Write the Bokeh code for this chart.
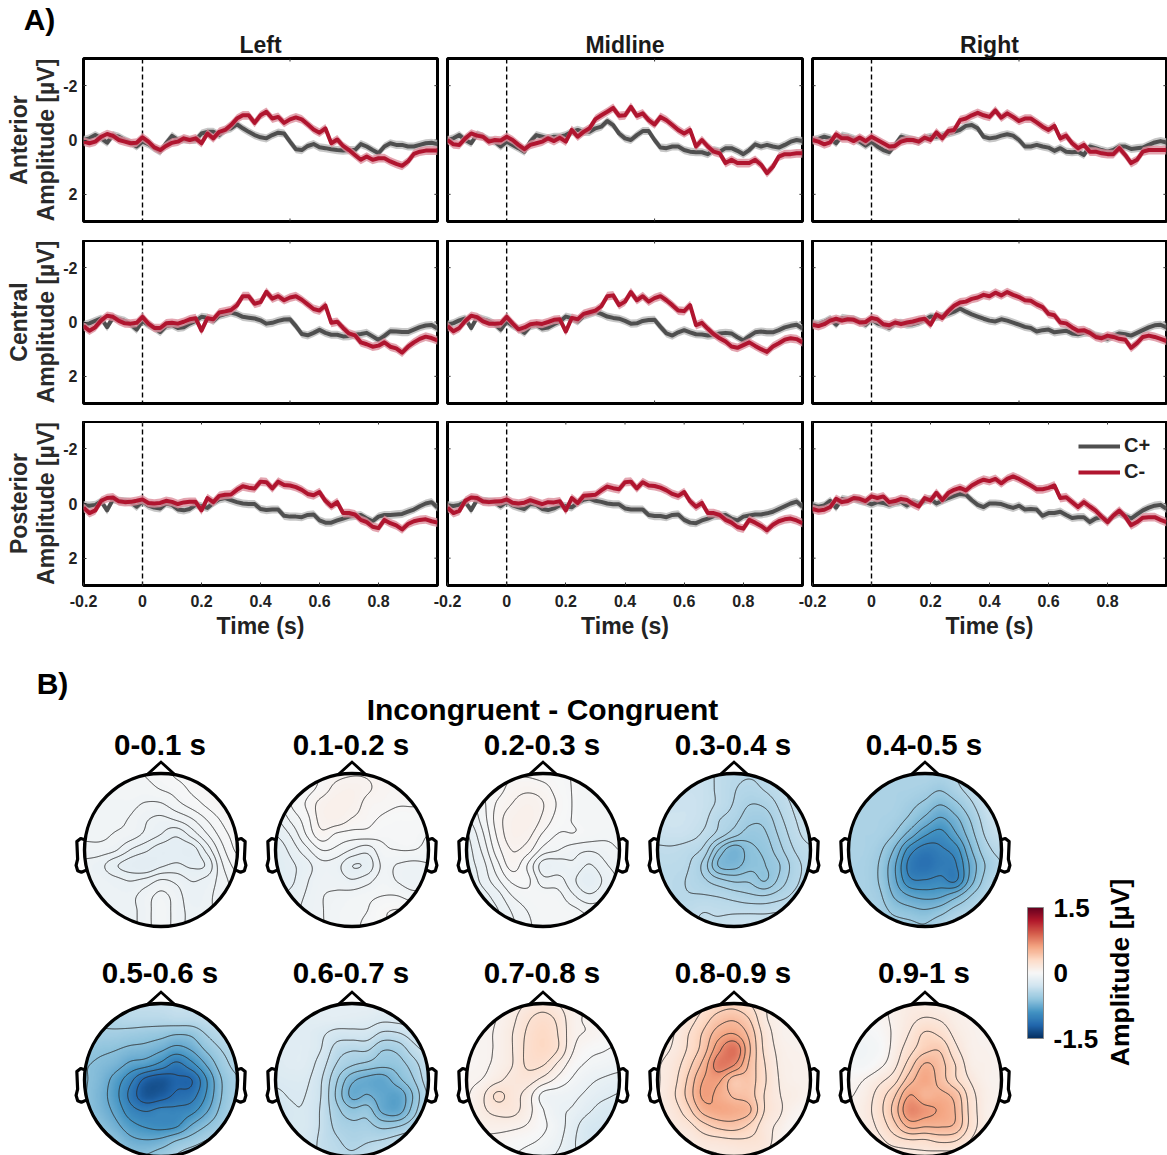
import numpy as np
from bokeh.core.properties import value
from bokeh.embed import file_html
from bokeh.layouts import column, row
from bokeh.models import (ColorBar, FixedTicker, Legend, LegendItem, LinearAxis,
                          LinearColorMapper, Range1d, Span)
from bokeh.palettes import RdBu
from bokeh.plotting import figure
from bokeh.resources import INLINE

FONT = "Liberation Sans"

# ---------------------------------------------------------------- data, panel A (uV)
gray_ant_left = [0, -.06, -.18, -.06, .10, -.18, -.12, 0, .10, .24, .06, .15, .30, .43, .12, -.15, 0, -.02, 0, 0, -.24, -.30, -.30, -.18, -.37, -.43, -.58, -.43, -.30, -.18, -.10, -.06, -.18, -.27, -.24, .06, .34, .37, .22, .15, .27, .30, .34, .37, .39, .37, .37, .15, .24, .37, .49, .24, .12, .18, .18, .24, .24, .18, .12, .10, .15]
red_ant_left = [.06, .12, .06, -.12, -.22, -.15, 0, .06, .12, .10, -.10, .06, .27, .37, .22, .10, .06, -.06, 0, -.06, .12, -.24, -.06, -.30, -.37, -.55, -.79, -.91, -.91, -.63, -.91, -1.04, -.79, -.85, -.63, -.76, -.83, -.76, -.58, -.39, -.27, -.43, .12, -.02, .22, .37, .55, .73, .61, .73, .67, .67, .79, .88, .95, .79, .51, .43, .39, .39, .39]
gray_ant_mid = [0, -.06, -.18, 0, .12, -.21, -.12, 0, .06, .24, .06, .18, .30, .43, .06, -.18, -.12, -.06, -.12, -.12, -.18, -.30, -.37, -.30, -.30, -.43, -.49, -.70, -.55, -.24, -.06, 0, -.18, -.33, -.33, 0, .28, .30, .24, .24, .37, .43, .45, .45, .52, .37, .43, .30, .30, .40, .52, .37, .16, .24, .18, .24, .28, .18, .06, 0, .04]
red_ant_mid = [0, .16, .18, -.06, -.24, -.16, -.12, .06, 0, .02, -.12, 0, .18, .34, .18, .12, .06, -.06, .04, -.08, .06, -.37, -.12, -.30, -.43, -.77, -.91, -1.04, -1.18, -.89, -.91, -1.22, -.89, -.98, -.73, -.57, -.85, -.73, -.55, -.37, -.24, -.37, .24, 0, .24, .43, .49, .85, .73, .85, .85, .85, .73, .91, 1.22, .98, .61, .52, .52, .49, .49]
gray_ant_right = [0, -.04, -.12, -.06, .12, -.16, -.12, -.04, .06, .21, .06, .24, .37, .45, .18, -.12, -.06, 0, .06, -.06, -.12, -.12, -.16, -.24, -.30, -.37, -.52, -.55, -.43, -.12, -.06, -.09, -.16, -.21, -.16, 0, .24, .24, .18, .24, .28, .40, .30, .43, .45, .43, .55, .24, .30, .37, .43, .37, .24, .24, .33, .30, .28, .18, .09, .04, .09]
red_ant_right = [0, .06, .16, .09, -.21, -.06, -.06, .04, -.09, .04, -.12, 0, .12, .24, .22, .06, 0, 0, .06, -.09, 0, -.28, -.06, -.33, -.37, -.73, -.79, -.91, -1.0, -.91, -.85, -1.09, -.82, -.98, -.85, -.70, -.79, -.79, -.65, -.49, -.37, -.52, -.06, -.16, .12, .30, .18, .43, .43, .49, .52, .52, .30, .55, .85, .73, .43, .37, .37, .37, .37]

gray_cen_left = [.11, .05, -.04, -.13, .19, -.16, -.10, -.04, .09, .28, -.04, .11, .22, .37, .15, .11, .22, .19, .06, -.04, -.19, -.16, -.04, -.23, -.29, -.35, -.29, -.19, -.16, -.13, -.06, .06, .03, -.04, -.09, -.10, .15, .44, .49, .40, .29, .40, .47, .47, .53, .52, .47, .44, .40, .53, .66, .51, .34, .35, .37, .37, .28, .19, .13, .11, .24]
red_cen_left = [.15, .32, .19, -.06, -.23, -.19, -.04, .05, .06, .03, -.19, .06, .22, .22, .05, .03, .06, -.01, -.10, -.14, .32, -.14, -.10, -.35, -.39, -.44, -.61, -.95, -.95, -.67, -.73, -1.11, -.86, -.95, -.80, -.90, -.95, -.82, -.65, -.48, -.42, -.61, .03, -.01, .22, .42, .49, .75, .82, .91, .87, .75, .91, .97, 1.13, .91, .75, .62, .54, .59, .68]
gray_cen_mid = [.10, .04, -.06, -.13, .22, -.17, -.10, -.03, .08, .28, -.02, .13, .25, .40, .15, .10, .24, .20, .08, -.02, -.20, -.14, -.02, -.22, -.30, -.37, -.30, -.20, -.15, -.12, -.04, .06, .05, -.04, -.07, -.08, .18, .42, .50, .38, .30, .38, .45, .46, .50, .48, .42, .40, .42, .56, .68, .52, .38, .35, .38, .38, .30, .20, .14, .10, .24]
red_cen_mid = [.15, .34, .22, -.04, -.23, -.18, -.02, .06, .06, .05, -.19, .05, .27, .20, .08, .05, .07, 0, -.08, -.10, .35, -.15, -.10, -.30, -.36, -.42, -.58, -.95, -.98, -.62, -.75, -1.10, -.80, -.95, -.75, -.88, -.95, -.80, -.62, -.42, -.40, -.62, .12, .03, .25, .45, .60, .72, .90, .95, .85, .75, .88, 1.0, 1.10, .90, .78, .65, .60, .63, .75]
gray_cen_right = [.05, .08, 0, -.12, .10, -.15, -.12, -.10, -.02, .10, -.10, .05, .12, .22, .05, .03, .10, .08, .02, -.08, -.20, -.18, -.22, -.30, -.38, -.50, -.38, -.28, -.20, -.12, -.05, -.02, -.10, -.05, .02, .10, .18, .22, .35, .30, .28, .38, .35, .32, .42, .45, .40, .38, .50, .55, .62, .50, .42, .45, .50, .40, .30, .20, .12, .10, .20]
red_cen_right = [.10, .15, .08, -.05, -.12, -.05, -.10, -.08, .02, 0, -.15, -.10, .08, .12, .02, .08, .02, -.02, -.08, -.12, .10, -.28, -.15, -.40, -.60, -.72, -.75, -.85, -.90, -1.0, -.95, -1.08, -.98, -1.10, -1.0, -.92, -.80, -.78, -.65, -.55, -.30, -.25, .02, .05, .20, .32, .30, .40, .55, .60, .50, .55, .62, .65, .95, .78, .55, .50, .55, .62, .70]

gray_pos_left = [.06, .08, .05, -.08, .25, -.15, -.10, -.08, -.05, .12, -.08, .08, .15, .18, 0, .05, .22, .25, .20, .05, .10, .16, -.02, -.15, -.20, -.12, -.05, 0, .02, .02, .20, .24, .22, .22, .45, .48, .48, .50, .42, .40, .62, .70, .70, .62, .55, .48, .45, .42, .55, .65, .48, .42, .42, .40, .38, .30, .22, .10, 0, -.05, .15]
red_pos_left = [.15, .35, .25, -.10, -.20, -.22, -.08, -.05, -.06, -.10, -.15, -.02, 0, -.02, -.10, -.06, .02, -.04, -.06, -.06, .25, -.20, -.05, -.28, -.32, -.33, -.50, -.63, -.58, -.55, -.80, -.78, -.55, -.80, -.68, -.66, -.60, -.50, -.35, -.30, -.42, -.10, .10, -.05, .35, .35, .40, .60, .68, .85, .90, .60, .72, .80, .95, .75, .65, .60, .58, .65, .70]
gray_pos_mid = [.07, .09, .05, -.06, .24, -.14, -.10, -.07, -.05, .10, -.07, .07, .14, .20, .02, .05, .20, .24, .18, .06, .10, .14, -.02, -.14, -.18, -.10, -.06, 0, .03, .03, .18, .22, .22, .22, .42, .46, .46, .50, .42, .40, .60, .70, .72, .62, .55, .46, .44, .42, .55, .62, .48, .44, .40, .40, .36, .30, .20, .10, 0, -.07, .12]
red_pos_mid = [.15, .35, .27, -.10, -.22, -.20, -.07, -.05, -.07, -.08, -.15, -.03, 0, -.03, -.12, -.05, .02, -.05, -.04, -.08, .25, -.20, -.02, -.28, -.30, -.32, -.48, -.62, -.56, -.52, -.78, -.80, -.55, -.78, -.66, -.64, -.58, -.48, -.35, -.28, -.42, -.08, .12, -.02, .35, .35, .42, .60, .70, .86, .92, .60, .70, .82, .98, .78, .65, .58, .55, .62, .72]
gray_pos_right = [.07, .12, .07, -.10, .15, -.17, -.12, -.18, -.10, -.05, .03, -.05, -.02, .05, -.02, -.06, .07, -.06, .02, -.10, -.17, 0, -.10, -.20, -.28, -.35, -.32, -.12, .05, .13, 0, 0, .02, .10, .16, .08, .22, .20, .22, .45, .35, .35, .30, .42, .53, .50, .50, .68, .55, .50, .65, .45, .35, .45, .55, .40, .25, .15, .08, .05, .20]
red_pos_right = [.20, .26, .23, .13, -.17, -.05, -.09, -.20, -.17, -.09, -.26, -.20, -.26, -.05, -.09, -.17, -.13, .01, .11, -.20, -.11, -.39, -.13, -.38, -.50, -.57, -.48, -.66, -.78, -.87, -.82, -.90, -.74, -.90, -.99, -.90, -.78, -.66, -.52, -.52, -.57, -.66, -.20, -.23, -.05, .13, -.05, .11, .26, .48, .68, .44, .26, .48, .80, .68, .52, .50, .50, .60, .68]

sem_gray = 0.15
sem_red = 0.16
row_names = ["Anterior", "Central", "Posterior"]
col_names = ["Left", "Midline", "Right"]
gray_series = [[gray_ant_left, gray_ant_mid, gray_ant_right], [gray_cen_left, gray_cen_mid, gray_cen_right], [gray_pos_left, gray_pos_mid, gray_pos_right]]
red_series = [[red_ant_left, red_ant_mid, red_ant_right], [red_cen_left, red_cen_mid, red_cen_right], [red_pos_left, red_pos_mid, red_pos_right]]
time_ticks = [-0.2, 0, 0.2, 0.4, 0.6, 0.8]
time_labels = {-0.2: "-0.2", 0: "0", 0.2: "0.2", 0.4: "0.4", 0.6: "0.6", 0.8: "0.8"}
amp_ticks = [-2, 0, 2]
amp_labels = {-2: "-2", 0: "0", 2: "2"}

# ---------------------------------------------------------------- data, panel B (0.01 uV, top row first)
topo_titles = ["0-0.1 s", "0.1-0.2 s", "0.2-0.3 s", "0.3-0.4 s", "0.4-0.5 s", "0.5-0.6 s", "0.6-0.7 s", "0.7-0.8 s", "0.8-0.9 s", "0.9-1 s"]
topo_0 = [[-4,-4,-4,-4,-3,-2,0,1,2,3,3],[-4,-4,-4,-4,-4,-3,-2,0,1,3,3],[-5,-5,-5,-5,-6,-6,-4,-2,0,2,3],[-5,-5,-5,-6,-8,-9,-8,-6,-3,0,3],[-5,-5,-6,-7,-9,-11,-13,-10,-6,-2,1],[-7,-7,-8,-11,-13,-15,-15,-15,-10,-4,0],[-9,-10,-13,-15,-16,-14,-13,-14,-13,-6,-2],[-9,-9,-10,-11,-10,-8,-9,-11,-10,-7,-4],[-9,-9,-9,-9,-7,-5,-7,-10,-9,-7,-5],[-9,-9,-9,-9,-7,-4,-7,-9,-9,-7,-6],[-9,-9,-9,-9,-7,-4,-7,-9,-9,-8,-7]]
topo_1 = [[-5,-3,-1,1,3,4,4,3,2,2,2],[-6,-4,-1,2,6,7,5,3,2,2,2],[-8,-3,1,6,8,7,3,2,1,1,1],[-11,-6,-1,6,7,4,2,0,-1,-1,-2],[-14,-10,-3,3,0,-1,-1,-2,-2,-2,-3],[-17,-13,-8,-3,-4,-7,-9,-4,-3,-3,-4],[-18,-15,-12,-8,-9,-14,-13,-6,-7,-8,-7],[-17,-15,-11,-8,-8,-10,-8,-5,-7,-9,-7],[-15,-13,-10,-7,-6,-5,-4,-3,-3,-5,-5],[-13,-12,-9,-7,-5,-4,-3,0,1,0,-2],[-12,-11,-8,-7,-5,-4,-2,0,1,0,-2]]
topo_2 = [[-3,-2,0,1,1,0,-1,-2,-3,-3,-3],[-5,-2,0,3,4,3,0,-2,-3,-3,-3],[-7,-3,2,5,7,5,1,-2,-3,-3,-3],[-9,-4,3,7,8,4,0,-2,-3,-3,-3],[-12,-6,2,7,6,1,-2,-2,-3,-4,-4],[-13,-8,0,5,3,-3,-5,-7,-8,-7,-5],[-13,-10,-3,3,-2,-10,-10,-9,-12,-9,-7],[-14,-11,-6,-1,-1,-7,-7,-11,-15,-11,-8],[-14,-13,-10,-5,-3,-3,-4,-8,-11,-9,-7],[-14,-13,-12,-8,-5,-3,-3,-4,-6,-6,-6],[-14,-13,-12,-9,-6,-3,-3,-3,-4,-5,-5]]
topo_3 = [[-35,-35,-34,-34,-38,-41,-42,-41,-37,-33,-30],[-34,-34,-33,-34,-38,-42,-44,-42,-38,-33,-30],[-33,-33,-32,-34,-38,-43,-48,-47,-41,-35,-30],[-32,-31,-32,-35,-42,-46,-52,-52,-44,-37,-32],[-34,-33,-34,-38,-45,-52,-57,-55,-47,-39,-34],[-38,-38,-40,-44,-60,-70,-62,-58,-50,-42,-38],[-40,-40,-42,-50,-66,-68,-62,-60,-54,-45,-40],[-40,-41,-43,-47,-52,-55,-55,-60,-52,-44,-40],[-41,-41,-42,-42,-43,-45,-47,-48,-45,-41,-39],[-41,-41,-39,-37,-38,-38,-38,-38,-37,-37,-37],[-40,-40,-38,-36,-35,-32,-32,-33,-34,-35,-35]]
topo_4 = [[-48,-48,-48,-48,-47,-46,-47,-44,-38,-30,-28],[-48,-48,-48,-48,-48,-50,-54,-47,-39,-30,-28],[-48,-48,-48,-48,-52,-58,-66,-58,-46,-34,-28],[-48,-48,-48,-50,-58,-70,-80,-70,-54,-38,-30],[-48,-48,-49,-56,-72,-88,-94,-80,-60,-42,-35],[-48,-48,-53,-68,-95,-107,-103,-95,-68,-48,-40],[-48,-49,-56,-76,-105,-112,-106,-102,-75,-54,-44],[-48,-49,-56,-75,-98,-100,-97,-102,-72,-50,-40],[-48,-49,-53,-68,-78,-82,-80,-70,-55,-44,-38],[-48,-48,-50,-58,-62,-65,-60,-50,-44,-38,-35],[-48,-48,-48,-50,-52,-54,-46,-40,-38,-35,-34]]
topo_5 = [[-40,-40,-40,-38,-37,-36,-35,-35,-35,-35,-35],[-45,-45,-44,-42,-42,-42,-40,-40,-37,-35,-35],[-52,-52,-52,-54,-56,-58,-62,-60,-48,-40,-36],[-58,-60,-62,-66,-68,-74,-82,-75,-60,-48,-42],[-62,-65,-70,-80,-85,-95,-108,-95,-75,-55,-45],[-62,-68,-82,-100,-122,-128,-120,-118,-90,-62,-50],[-62,-70,-85,-108,-128,-125,-115,-110,-88,-62,-50],[-60,-68,-80,-98,-105,-100,-100,-95,-78,-58,-48],[-55,-62,-72,-85,-92,-95,-92,-75,-62,-52,-45],[-52,-55,-62,-72,-75,-72,-62,-55,-48,-45,-42],[-50,-52,-58,-62,-62,-55,-48,-42,-40,-40,-40]]
topo_6 = [[-20,-18,-16,-15,-14,-14,-14,-15,-15,-15,-16],[-20,-18,-17,-16,-16,-17,-18,-21,-20,-18,-17],[-20,-18,-18,-22,-28,-28,-28,-36,-35,-28,-20],[-18,-18,-18,-24,-38,-42,-42,-52,-50,-38,-30],[-20,-18,-19,-29,-44,-52,-56,-60,-58,-48,-35],[-22,-21,-22,-33,-52,-70,-76,-78,-66,-54,-38],[-26,-23,-24,-34,-55,-75,-72,-78,-80,-62,-42],[-32,-25,-25,-35,-50,-60,-58,-75,-78,-58,-40],[-34,-25,-25,-35,-46,-50,-50,-56,-54,-46,-35],[-34,-26,-27,-36,-42,-46,-44,-42,-38,-34,-30],[-34,-26,-28,-36,-40,-42,-38,-34,-30,-28,-26]]
topo_7 = [[5,5,5,10,15,18,14,8,5,3,2],[3,4,6,12,21,26,20,8,5,3,2],[3,4,7,14,24,30,22,8,5,2,0],[3,4,7,14,25,30,22,6,0,-2,-4],[3,4,8,14,24,23,12,1,-4,-6,-8],[4,6,12,17,18,11,3,-4,-9,-12,-14],[5,12,24,18,10,-5,-7,-9,-13,-17,-20],[5,12,17,17,9,-2,-9,-12,-18,-24,-25],[5,8,9,8,5,-1,-7,-16,-25,-27,-26],[3,4,3,1,-1,-4,-9,-18,-26,-27,-26],[2,2,1,-2,-5,-8,-12,-18,-22,-24,-24]]
topo_8 = [[8,8,12,22,30,32,25,14,7,5,5],[8,10,18,30,42,46,36,15,8,6,6],[8,12,24,38,55,60,45,20,8,6,6],[10,14,26,42,68,82,50,22,10,7,7],[12,18,32,52,78,72,46,25,11,8,8],[12,20,38,60,62,42,42,26,12,8,8],[12,22,40,62,56,46,42,24,13,10,6],[12,18,32,52,58,56,50,24,14,6,2],[10,14,20,32,40,42,34,18,10,1,-2],[10,10,12,18,20,22,22,18,6,-2,-3],[8,8,8,10,12,14,16,14,3,-3,-3]]
topo_9 = [[5,5,5,8,12,12,10,8,6,5,5],[2,2,3,8,14,18,16,10,7,5,5],[-3,-3,0,8,18,30,26,14,8,6,6],[-5,-5,-2,10,24,36,38,20,9,7,6],[-3,-3,3,14,34,52,44,28,11,8,6],[2,6,14,24,46,58,46,30,16,8,6],[5,10,22,38,62,52,54,46,22,10,6],[7,12,24,44,72,66,60,50,24,10,6],[8,11,20,36,54,52,52,48,24,10,6],[8,10,14,22,26,26,30,28,16,7,5],[8,8,9,10,12,14,12,12,8,5,5]]
topo_fields = [topo_0, topo_1, topo_2, topo_3, topo_4, topo_5, topo_6, topo_7, topo_8, topo_9]
cbar_ticks = [-1.5, 0, 1.5]
cbar_labels = {-1.5: "-1.5", 0: "0", 1.5: "1.5"}
ear_x = [0.98, 1.05, 1.10, 1.09, 1.11, 1.09, 1.04, 0.97]
ear_y = [0.13, 0.15, 0.11, -0.12, -0.20, -0.27, -0.29, -0.26]
nose_x = [-0.18, 0, 0.18]
nose_y = [0.985, 1.15, 0.985]

# ---------------------------------------------------------------- helpers
GRAY, GRAY_BAND = "#4f4f4f", "#b9b9b9"
RED, RED_BAND = "#b0152f", "#dc8f9c"
TXT = "#222222"
TICK = "#333333"
TICK_X = 0.0105   # 3 px inward, in seconds
TICK_Y = 0.11     # 3 px inward, in uV


def erp_panel(r, c):
    border_left = 83 if c == 0 else 30
    border_right = 1 if c == 2 else 2
    border_top = 58 if r == 0 else 0
    border_bottom = 55 if r == 2 else (19 if r == 0 else 18)
    p = figure(frame_width=354 if c != 1 else 355, frame_height=164 if r == 2 else 163,
               min_border_left=border_left, min_border_right=border_right,
               min_border_top=border_top, min_border_bottom=border_bottom,
               x_range=Range1d(-0.2, 1.0), y_range=Range1d(3, -3),
               x_axis_type=None, y_axis_type=None, output_backend="svg", toolbar_location=None,
               background_fill_color=None, border_fill_color=None,
               outline_line_color="black", outline_line_width=3,
               margin=(0, 0, 0, -22 if c else 0))
    p.grid.visible = False
    if r == 0:
        p.title.text = col_names[c]
        p.title.align = "center"
        p.title.text_font = FONT
        p.title.text_font_size = "23px"
        p.title.text_font_style = "bold"
        p.title.text_color = "#1a1a1a"
        p.title.standoff = 1
    xt = time_ticks if r == 2 else [0.5]
    if r == 2:
        ax = LinearAxis(ticker=FixedTicker(ticks=xt), axis_line_color=None, major_tick_in=3, major_tick_out=0,
                        minor_tick_line_color=None, major_tick_line_color=TICK, major_tick_line_width=1)
        ax.major_label_text_font_size = "16px"
        ax.major_label_text_font = FONT
        ax.major_label_text_font_style = "bold"
        ax.major_label_text_color = TXT
        ax.major_label_overrides = time_labels
        ax.major_label_standoff = 9
        ax.axis_label = "Time (s)"
        ax.axis_label_text_font = FONT
        ax.axis_label_text_font_size = "23px"
        ax.axis_label_text_font_style = "bold"
        ax.axis_label_text_color = TXT
        ax.axis_label_standoff = 3
        p.add_layout(ax, "below")
    else:
        p.segment(x0=xt, x1=xt, y0=[3] * len(xt), y1=[3 - TICK_Y] * len(xt), line_color=TICK, line_width=1)
    p.segment(x0=xt, x1=xt, y0=[-3] * len(xt), y1=[-3 + TICK_Y] * len(xt), line_color=TICK, line_width=1)
    if c == 0:
        ax = LinearAxis(ticker=FixedTicker(ticks=amp_ticks), axis_line_color=None, major_tick_in=3, major_tick_out=0,
                        minor_tick_line_color=None, major_tick_line_color=TICK, major_tick_line_width=1)
        ax.major_label_text_font_size = "16px"
        ax.major_label_text_font = FONT
        ax.major_label_text_font_style = "bold"
        ax.major_label_text_color = TXT
        ax.major_label_overrides = amp_labels
        ax.major_label_standoff = 6
        ax.axis_label = row_names[r] + "\nAmplitude [µV]"
        ax.axis_label_text_font = FONT
        ax.axis_label_text_font_size = "23px"
        ax.axis_label_text_font_style = "bold"
        ax.axis_label_text_color = "#2a2a2a"
        ax.axis_label_text_line_height = 1.05
        ax.axis_label_standoff = 1
        p.add_layout(ax, "left")
    else:
        p.segment(x0=[-0.2] * 3, x1=[-0.2 + TICK_X] * 3, y0=amp_ticks, y1=amp_ticks, line_color=TICK, line_width=1)
    p.segment(x0=[1.0] * 3, x1=[1.0 - TICK_X] * 3, y0=amp_ticks, y1=amp_ticks, line_color=TICK, line_width=1)
    p.add_layout(Span(location=0, dimension="height", line_color="black", line_width=1.4,
                      line_dash="5 3", level="underlay"))
    g = np.array(gray_series[r][c])
    t_g = np.linspace(-0.2, 1.0, len(g))
    red = np.array(red_series[r][c])
    t_r = np.linspace(-0.2, 1.0, len(red))
    p.varea(t_g, g - sem_gray, g + sem_gray, fill_color=GRAY_BAND, fill_alpha=0.8)
    gl = p.line(t_g, g, line_color=GRAY, line_width=4, line_join="round")
    p.varea(t_r, red - sem_red, red + sem_red, fill_color=RED_BAND, fill_alpha=0.8)
    rl = p.line(t_r, red, line_color=RED, line_width=4, line_join="round")
    if r == 2 and c == 2:
        leg = Legend(items=[LegendItem(label="C+", renderers=[gl]), LegendItem(label="C-", renderers=[rl])],
                     location=(266, 102), border_line_color=None, background_fill_alpha=0,
                     label_text_font=FONT, label_text_font_size="20px", label_text_font_style="bold",
                     label_text_color=TXT, glyph_width=42, glyph_height=20, padding=0, margin=0, spacing=3,
                     label_standoff=4)
        p.add_layout(leg)
    return p


def catmull_weights(n_in, n_out):
    t = np.linspace(0, n_in - 1, n_out)
    i = np.clip(np.floor(t).astype(int), 0, n_in - 2)
    u = t - i
    w = np.zeros((n_out, n_in))
    coef = [-.5 * u**3 + u**2 - .5 * u, 1.5 * u**3 - 2.5 * u**2 + 1, -1.5 * u**3 + 2 * u**2 + .5 * u, .5 * u**3 - .5 * u**2]
    for k, cf in zip((-1, 0, 1, 2), coef):
        idx = np.clip(i + k, 0, n_in - 1)
        np.add.at(w, (np.arange(n_out), idx), cf)
    return w


common = dict(text_font=value(FONT), text_font_style="bold", text_align="center", text_baseline="middle", text_color="black")

# ---------------------------------------------------------------- panel A heading, overlapped by the first row
HEAD_H = 40
pa = figure(width=100, height=HEAD_H, x_range=Range1d(0, 100), y_range=Range1d(-HEAD_H, 0),
            x_axis_type=None, y_axis_type=None, output_backend="svg", toolbar_location=None,
            min_border=0, outline_line_color=None, background_fill_color=None, border_fill_color=None)
pa.grid.visible = False
pa.text(x=[39], y=[-19], text=["A)"], text_font_size="30px", **common)

# ---------------------------------------------------------------- panel A
rows = []
for r in range(3):
    rows.append(row([erp_panel(r, c) for c in range(3)], spacing=0,
                    margin=(-HEAD_H if r == 0 else 0, 0, 0, 0)))

# ---------------------------------------------------------------- panel B
anchors = list(RdBu[11])
rgb = np.array([[int(h[i:i + 2], 16) for i in (1, 3, 5)] for h in anchors], float)
pos = np.linspace(0, 1, 11)
palette = []
for s in np.linspace(0, 1, 256):
    palette.append("#%02x%02x%02x" % tuple(int(round(np.interp(s, pos, rgb[:, k]))) for k in range(3)))
mapper = LinearColorMapper(palette=palette, low=-1.5, high=1.5, nan_color="rgba(0,0,0,0)")

pb = figure(width=1167, height=515, x_range=Range1d(0, 1167), y_range=Range1d(-1155, -640),
            x_axis_type=None, y_axis_type=None, output_backend="svg", toolbar_location=None,
            min_border=0, outline_line_color=None, background_fill_color=None, border_fill_color=None)
pb.grid.visible = False

R = 76.5
N = 221
W = catmull_weights(11, N)
axis = np.linspace(-1, 1, N)
XX, YY = np.meshgrid(axis, axis)
inside = XX**2 + YY**2 <= 1.0
title_x, title_y = [], []
for k, field in enumerate(topo_fields):
    cx = 160.5 + 191 * (k % 5)
    cy = -(848.5 + 230 * (k // 5))
    g = np.array(field, float)[::-1] / 100.0
    z = W @ g @ W.T
    zin = z[inside]
    zimg = np.where(inside, z, np.nan)
    pb.image(image=[zimg], x=cx - R, y=cy - R, dw=2 * R, dh=2 * R, color_mapper=mapper)
    levels = np.linspace(zin.min(), zin.max(), 8)[1:-1]
    pb.contour(cx + axis * R, cy + axis * R, np.ma.masked_where(~inside, z), levels,
               line_color="#2b2b2b", line_width=1.0, line_alpha=0.9)
    pb.circle(x=[cx], y=[cy], radius=R, fill_color=None, line_color="black", line_width=3.4)
    pb.line(cx + np.array(nose_x) * R, cy + np.array(nose_y) * R, line_color="black", line_width=2.8, line_join="miter")
    for sgn in (-1, 1):
        pb.line(cx + sgn * np.array(ear_x) * R, cy + np.array(ear_y) * R, line_color="black", line_width=3.2, line_join="round")
    title_x.append(cx - 1)
    title_y.append(cy + (105.5 if k < 5 else 107.5))

pb.text(x=title_x, y=title_y, text=topo_titles, text_font_size="29.5px", **common)
pb.text(x=[542], y=[-708], text=["Incongruent - Congruent"], text_font_size="30px", **common)
pb.text(x=[52], y=[-682], text=["B)"], text_font_size="30px", **common)
pb.text(x=[1119], y=[-971], text=["Amplitude [µV]"], text_font_size="26.5px", angle=np.pi / 2, **common)

cb = ColorBar(color_mapper=mapper, ticker=FixedTicker(ticks=cbar_ticks), major_label_overrides=cbar_labels,
              location=(1027, 118), width=16, height=131, padding=0, margin=0, bar_line_color="#888888",
              major_tick_line_color=None, minor_tick_line_color=None, label_standoff=10, title=None,
              major_label_text_font=FONT, major_label_text_font_size="26px", major_label_text_font_style="bold",
              major_label_text_color="black", background_fill_color=None)
pb.add_layout(cb)

page = column(pa, *rows, pb, spacing=0)
open("out.html", "w").write(file_html(page, INLINE))
